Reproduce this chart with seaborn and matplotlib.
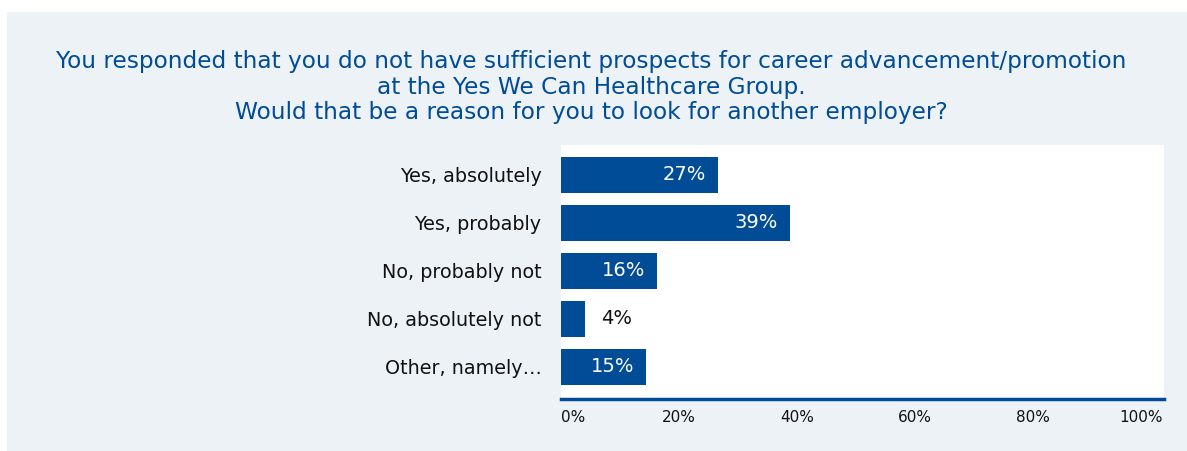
import matplotlib
matplotlib.use("Agg")
import matplotlib.pyplot as plt
import seaborn as sns
import pandas as pd
from matplotlib.patches import Rectangle
from matplotlib.transforms import ScaledTranslation

categories = ["Yes, absolutely", "Yes, probably", "No, probably not",
              "No, absolutely not", "Other, namely…"]
values = [26.6, 38.8, 16.3, 4.1, 14.4]
value_labels = ["27%", "39%", "16%", "4%", "15%"]
tick_values = [0, 20, 40, 60, 80, 100]
tick_labels = ["0%", "20%", "40%", "60%", "80%", "100%"]
title = ("You responded that you do not have sufficient prospects for career advancement/promotion\n"
         "at the Yes We Can Healthcare Group.\n"
         "Would that be a reason for you to look for another employer?")

BLUE = "#004C97"
PANEL = "#EDF2F7"

sns.set_theme(style="white")
plt.rcParams['font.family'] = ['DejaVu Sans']

W, H = 1187, 451
fig = plt.figure(figsize=(W / 100, H / 100), dpi=100)
fig.patch.set_facecolor("white")
fig.patches.append(Rectangle((7 / W, 0), 1 - 7 / W, 1 - 12 / H, transform=fig.transFigure,
                             facecolor=PANEL, edgecolor="none", zorder=-10))

left, right, top, bottom = 561 / W, 1164 / W, 1 - 145 / H, 1 - 399 / H
ax = fig.add_axes([left, bottom, right - left, top - bottom])
ax.set_facecolor("white")
ax.set_zorder(1)

df = pd.DataFrame({"category": categories, "value": values})
sns.barplot(data=df, x="value", y="category", orient="h", color=BLUE,
            saturation=1, width=0.75, linewidth=0, ax=ax)

ax.set_xlim(0, 102.2)
ax.set_ylim(4.667, -0.625)
ax.set_xlabel("")
ax.set_ylabel("")

for i, (v, lab) in enumerate(zip(values, value_labels)):
    if v > 8:
        ax.text(v - 2.0, i, lab, ha="right", va="center", color="white", fontsize=14)
    else:
        ax.text(v + 2.7, i, lab, ha="left", va="center", color="#111111", fontsize=14)

ax.set_xticks(tick_values)
ax.set_xticklabels(tick_labels, fontsize=11, color="#111111")
ax.tick_params(axis="x", length=0, pad=8)
ax.tick_params(axis="y", length=0, pad=14, labelsize=13.8, labelcolor="#111111")
tl = ax.get_xticklabels()
tl[0].set_ha("left")
tl[-1].set_ha("right")
tl[-1].set_transform(tl[-1].get_transform() + ScaledTranslation(12 / 100, 0, fig.dpi_scale_trans))

for s in ["top", "right", "left"]:
    ax.spines[s].set_visible(False)
ax.spines["bottom"].set_color(BLUE)
ax.spines["bottom"].set_linewidth(2.5)

fig.text(591 / W, 1 - 50 / H, title, ha="center", va="top", color=BLUE,
         fontsize=16.75, linespacing=1.15)

fig.savefig("out.png", dpi=100, facecolor=fig.get_facecolor())
